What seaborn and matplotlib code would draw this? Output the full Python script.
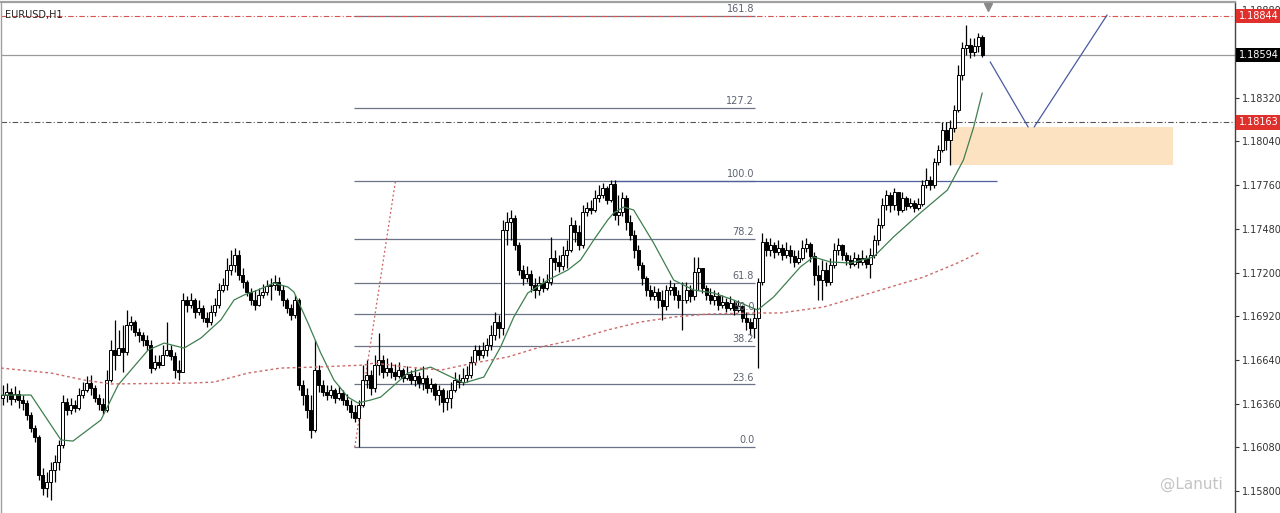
import numpy as np
import pandas as pd
import matplotlib.pyplot as plt
import matplotlib.transforms as mtransforms
import seaborn as sns

### DATA ###
symbol = "EURUSD,H1"
first_open = 1.16396
close = [1.16415, 1.16434, 1.16389, 1.16421, 1.16383, 1.16364, 1.16287, 1.16204, 1.16146, 1.15902,
         1.15819, 1.15857, 1.15934, 1.15986, 1.16095, 1.16370, 1.16319, 1.16351, 1.16332, 1.16415,
         1.16447, 1.16492, 1.16460, 1.16396, 1.16357, 1.16319, 1.16511, 1.16703, 1.16671, 1.16716,
         1.16691, 1.16864, 1.16883, 1.16819, 1.16800, 1.16768, 1.16736, 1.16588, 1.16627, 1.16607,
         1.16671, 1.16703, 1.16665, 1.16575, 1.16562, 1.17024, 1.16992, 1.17024, 1.16947, 1.16973,
         1.16909, 1.16883, 1.16947, 1.16992, 1.17088, 1.17120, 1.17216, 1.17248, 1.17312, 1.17184,
         1.17139, 1.17075, 1.17024, 1.16992, 1.17056, 1.17075, 1.17114, 1.17120, 1.17139, 1.17088,
         1.17024, 1.16973, 1.16928, 1.17024, 1.16479, 1.16415, 1.16319, 1.16191, 1.16575, 1.16479,
         1.16434, 1.16415, 1.16447, 1.16396, 1.16428, 1.16383, 1.16351, 1.16306, 1.16268, 1.16351,
         1.16511, 1.16543, 1.16460, 1.16607, 1.16639, 1.16562, 1.16588, 1.16562, 1.16537, 1.16575,
         1.16524, 1.16550, 1.16511, 1.16537, 1.16492, 1.16524, 1.16460, 1.16486, 1.16415, 1.16447,
         1.16370, 1.16396, 1.16447, 1.16511, 1.16498, 1.16524, 1.16543, 1.16627, 1.16703, 1.16671,
         1.16703, 1.16736, 1.16800, 1.16883, 1.16845, 1.17473, 1.17524, 1.17550, 1.17377, 1.17216,
         1.17165, 1.17191, 1.17120, 1.17088, 1.17133, 1.17101, 1.17139, 1.17293, 1.17268, 1.17242,
         1.17312, 1.17344, 1.17505, 1.17460, 1.17377, 1.17588, 1.17614, 1.17601, 1.17678, 1.17697,
         1.17742, 1.17665, 1.17768, 1.17569, 1.17588, 1.17678, 1.17524, 1.17441, 1.17344, 1.17248,
         1.17165, 1.17088, 1.17050, 1.17075, 1.17024, 1.16986, 1.17088, 1.17107, 1.17056, 1.17024,
         1.17024, 1.17088, 1.17050, 1.17203, 1.17229, 1.17101, 1.17056, 1.17024, 1.17050, 1.16992,
         1.17011, 1.16973, 1.17005, 1.16960, 1.16986, 1.16909, 1.16883, 1.16845, 1.16909, 1.17139,
         1.17396, 1.17344, 1.17377, 1.17332, 1.17357, 1.17312, 1.17344, 1.17306, 1.17268, 1.17293,
         1.17357, 1.17383, 1.17306, 1.17184, 1.17152, 1.17216, 1.17139, 1.17248, 1.17344, 1.17377,
         1.17312, 1.17280, 1.17255, 1.17293, 1.17268, 1.17293, 1.17255, 1.17312, 1.17409, 1.17505,
         1.17633, 1.17697, 1.17633, 1.17716, 1.17601, 1.17678, 1.17627, 1.17646, 1.17614, 1.17639,
         1.17761, 1.17793, 1.17761, 1.17909, 1.17985, 1.18114, 1.18050, 1.18127, 1.18242, 1.18466,
         1.18639, 1.18659, 1.18614, 1.18652, 1.18710, 1.18594]
high = [1.16479, 1.16492, 1.16460, 1.16473, 1.16447, 1.16415, 1.16383, 1.16306, 1.16223, 1.16159,
        1.15947, 1.15921, 1.15986, 1.16030, 1.16127, 1.16415, 1.16396, 1.16396, 1.16383, 1.16460,
        1.16498, 1.16537, 1.16543, 1.16479, 1.16421, 1.16396, 1.16575, 1.16768, 1.16896, 1.16832,
        1.16864, 1.16960, 1.16921, 1.16896, 1.16845, 1.16819, 1.16800, 1.16768, 1.16671, 1.16671,
        1.16736, 1.16883, 1.16736, 1.16691, 1.16639, 1.17069, 1.17050, 1.17069, 1.17037, 1.17024,
        1.16992, 1.16947, 1.16992, 1.17037, 1.17133, 1.17165, 1.17293, 1.17344, 1.17357, 1.17344,
        1.17229, 1.17152, 1.17101, 1.17088, 1.17101, 1.17127, 1.17152, 1.17165, 1.17184, 1.17171,
        1.17120, 1.17037, 1.16998, 1.17056, 1.17037, 1.16511, 1.16460, 1.16415, 1.16768, 1.16607,
        1.16511, 1.16479, 1.16479, 1.16460, 1.16473, 1.16447, 1.16421, 1.16383, 1.16351, 1.16383,
        1.16607, 1.16639, 1.16575, 1.16671, 1.16812, 1.16671, 1.16652, 1.16627, 1.16614, 1.16627,
        1.16588, 1.16601, 1.16575, 1.16588, 1.16562, 1.16601, 1.16543, 1.16524, 1.16492, 1.16479,
        1.16460, 1.16447, 1.16498, 1.16562, 1.16550, 1.16588, 1.16601, 1.16665, 1.16736, 1.16736,
        1.16755, 1.16780, 1.16864, 1.16947, 1.16928, 1.17537, 1.17588, 1.17601, 1.17569, 1.17396,
        1.17248, 1.17242, 1.17216, 1.17165, 1.17178, 1.17165, 1.17191, 1.17428, 1.17344, 1.17312,
        1.17370, 1.17409, 1.17556, 1.17537, 1.17505, 1.17633, 1.17652, 1.17665, 1.17729, 1.17761,
        1.17774, 1.17755, 1.17793, 1.17793, 1.17697, 1.17716, 1.17697, 1.17569, 1.17473, 1.17377,
        1.17268, 1.17178, 1.17120, 1.17114, 1.17101, 1.17088, 1.17120, 1.17152, 1.17133, 1.17088,
        1.17139, 1.17139, 1.17120, 1.17300, 1.17300, 1.17229, 1.17120, 1.17101, 1.17088, 1.17075,
        1.17056, 1.17037, 1.17050, 1.17024, 1.17024, 1.16992, 1.16947, 1.16909, 1.16973, 1.17165,
        1.17453, 1.17421, 1.17421, 1.17396, 1.17409, 1.17383, 1.17396, 1.17377, 1.17344, 1.17344,
        1.17409, 1.17421, 1.17396, 1.17332, 1.17248, 1.17280, 1.17268, 1.17293, 1.17389, 1.17421,
        1.17383, 1.17332, 1.17312, 1.17332, 1.17319, 1.17344, 1.17312, 1.17357, 1.17441, 1.17550,
        1.17678, 1.17729, 1.17716, 1.17742, 1.17716, 1.17716, 1.17691, 1.17678, 1.17665, 1.17678,
        1.17793, 1.17870, 1.17819, 1.17934, 1.18018, 1.18165, 1.18165, 1.18178, 1.18274, 1.18530,
        1.18678, 1.18787, 1.18703, 1.18703, 1.18735, 1.18723]
low = [1.16351, 1.16370, 1.16351, 1.16370, 1.16332, 1.16319, 1.16255, 1.16178, 1.16114, 1.15870,
       1.15774, 1.15761, 1.15742, 1.15857, 1.15934, 1.16075, 1.16287, 1.16293, 1.16306, 1.16319,
       1.16396, 1.16434, 1.16415, 1.16370, 1.16319, 1.16293, 1.16306, 1.16498, 1.16575, 1.16671,
       1.16562, 1.16671, 1.16832, 1.16793, 1.16755, 1.16729, 1.16703, 1.16556, 1.16575, 1.16588,
       1.16627, 1.16665, 1.16639, 1.16524, 1.16511, 1.16562, 1.16947, 1.16973, 1.16909, 1.16928,
       1.16883, 1.16851, 1.16864, 1.16921, 1.16973, 1.17075, 1.17088, 1.17184, 1.17203, 1.17152,
       1.17101, 1.17050, 1.16992, 1.16960, 1.16986, 1.17037, 1.17056, 1.17024, 1.17088, 1.17056,
       1.16986, 1.16941, 1.16896, 1.16909, 1.16447, 1.16351, 1.16268, 1.16139, 1.16178, 1.16434,
       1.16409, 1.16383, 1.16396, 1.16364, 1.16383, 1.16351, 1.16319, 1.16268, 1.16242, 1.16082,
       1.16338, 1.16460, 1.16415, 1.16434, 1.16543, 1.16524, 1.16537, 1.16524, 1.16511, 1.16524,
       1.16498, 1.16511, 1.16486, 1.16473, 1.16460, 1.16447, 1.16428, 1.16434, 1.16383, 1.16351,
       1.16306, 1.16319, 1.16332, 1.16434, 1.16460, 1.16479, 1.16498, 1.16524, 1.16607, 1.16639,
       1.16652, 1.16665, 1.16703, 1.16768, 1.16780, 1.16800, 1.17377, 1.17409, 1.17344, 1.17184,
       1.17120, 1.17139, 1.17075, 1.17037, 1.17056, 1.17075, 1.17088, 1.17120, 1.17216, 1.17203,
       1.17216, 1.17229, 1.17332, 1.17396, 1.17344, 1.17357, 1.17562, 1.17575, 1.17588, 1.17652,
       1.17678, 1.17639, 1.17652, 1.17537, 1.17505, 1.17562, 1.17473, 1.17409, 1.17293, 1.17216,
       1.17120, 1.17050, 1.17024, 1.17024, 1.16973, 1.16896, 1.16960, 1.17056, 1.17024, 1.16973,
       1.16832, 1.17005, 1.17011, 1.17024, 1.17088, 1.17069, 1.17024, 1.16998, 1.16992, 1.16960,
       1.16973, 1.16947, 1.16960, 1.16928, 1.16947, 1.16883, 1.16832, 1.16800, 1.16780, 1.16588,
       1.17120, 1.17306, 1.17306, 1.17293, 1.17312, 1.17280, 1.17293, 1.17261, 1.17236, 1.17255,
       1.17280, 1.17332, 1.17268, 1.17120, 1.17024, 1.17024, 1.17114, 1.17120, 1.17229, 1.17312,
       1.17280, 1.17248, 1.17229, 1.17242, 1.17229, 1.17248, 1.17229, 1.17165, 1.17293, 1.17377,
       1.17486, 1.17601, 1.17588, 1.17601, 1.17569, 1.17588, 1.17601, 1.17614, 1.17588, 1.17601,
       1.17627, 1.17742, 1.17729, 1.17742, 1.17889, 1.17973, 1.17985, 1.17889, 1.18101, 1.18229,
       1.18434, 1.18594, 1.18575, 1.18588, 1.18614, 1.18582]

# moving averages (bar index, price)
ma_fast_bar = [-0.5, 7.0, 14.5, 17.5, 24.5, 28.8, 36.3, 40.3, 45.3, 49.5, 54.5, 57.8, 60.3, 63.8,
               67.8, 71.3, 72.8, 76.3, 79.5, 82.8, 86.3, 88.8, 92.0, 94.5, 101.3, 107.0, 115.3,
               120.3, 124.5, 127.8, 131.3, 136.3, 141.3, 144.5, 147.8, 151.3, 152.8, 155.3, 157.8,
               162.8, 167.8, 172.8, 177.8, 182.8, 188.8, 192.8, 199.5, 202.8, 207.0, 212.0, 217.8,
               222.8, 229.5, 236.3, 240.3, 242.8, 245.0]
ma_fast_val = [1.16415, 1.16415, 1.16127, 1.16120, 1.16255, 1.16479, 1.16703, 1.16748, 1.16716,
               1.16780, 1.16896, 1.17024, 1.17056, 1.17088, 1.17133, 1.17107, 1.17075, 1.16877,
               1.16684, 1.16511, 1.16402, 1.16364, 1.16383, 1.16402, 1.16556, 1.16594, 1.16492,
               1.16530, 1.16723, 1.16915, 1.17069, 1.17152, 1.17216, 1.17280, 1.17409, 1.17537,
               1.17582, 1.17620, 1.17601, 1.17389, 1.17152, 1.17088, 1.17069, 1.17024, 1.16960,
               1.17043, 1.17236, 1.17300, 1.17268, 1.17261, 1.17300, 1.17428, 1.17582, 1.17729,
               1.17921, 1.18127, 1.18351]
ma_slow_bar = [-0.5, 12.0, 20.3, 27.0, 47.0, 52.8, 61.3, 69.5, 77.8, 90.3, 92.8, 101.3, 109.5,
               117.8, 126.3, 134.5, 142.8, 151.3, 159.5, 167.8, 176.3, 188.8, 194.5, 205.3, 213.8,
               222.0, 230.3, 238.8, 244.5]
ma_slow_val = [1.16588, 1.16556, 1.16511, 1.16486, 1.16492, 1.16498, 1.16556, 1.16588, 1.16594,
               1.16607, 1.16620, 1.16594, 1.16575, 1.16620, 1.16659, 1.16723, 1.16768, 1.16832,
               1.16883, 1.16915, 1.16934, 1.16941, 1.16941, 1.16979, 1.17043, 1.17107, 1.17171,
               1.17261, 1.17332]

fib_low = 1.16080
fib_high = 1.17788
fib_levels = [0.0, 23.6, 38.2, 50.0, 61.8, 78.2, 100.0, 127.2, 161.8]
fib_span = [87.75, 188.25]
fib_trend_bar = [88.0, 98.2]

peak_line_bar = [152.5, 248.75]
peak_line_val = 1.17787
zone_bar = [237.0, 292.75]
zone_val = [1.17889, 1.18133]
path_down_bar = [247.0, 256.5]
path_down_val = [1.18550, 1.18133]
path_up_bar = [258.0, 276.25]
path_up_val = [1.18133, 1.18851]

price_ticks = [1.15800, 1.16080, 1.16360, 1.16640, 1.16920, 1.17200, 1.17480,
               1.17760, 1.18040, 1.18320, 1.18600, 1.18880]
level_red_top = 1.18844
level_bid = 1.18594
level_mid = 1.18163

### PLOT ###
sns.set_style("white")
plt.rcParams['font.family'] = ['DejaVu Sans']
fig = plt.figure(figsize=(12.8, 5.13), dpi=100)
ax = fig.add_axes([1 / 1280, 0.0, 1234 / 1280, 511 / 513])

df = pd.DataFrame({'close': close, 'high': high, 'low': low})
df['open'] = [first_open] + close[:-1]
df['bar'] = np.arange(len(df))
up = df['close'] >= df['open']
wick_lo = df[['low', 'open', 'close']].min(axis=1)
wick_hi = df[['high', 'open', 'close']].max(axis=1)

# candles
ax.vlines(df['bar'], wick_lo, wick_hi, color='black', linewidth=0.9, zorder=3)
ax.bar(df['bar'][up], (df['close'] - df['open'])[up].clip(lower=0.00003), bottom=df['open'][up],
       width=0.75, color='white', edgecolor='black', linewidth=0.7, zorder=4)
ax.bar(df['bar'][~up], (df['open'] - df['close'])[~up].clip(lower=0.00003), bottom=df['close'][~up],
       width=0.75, color='black', edgecolor='black', linewidth=0.7, zorder=4)

# moving averages
sns.lineplot(x=ma_fast_bar, y=ma_fast_val, ax=ax, color='#3f7f4f', linewidth=0.9, zorder=5)
sns.lineplot(x=ma_slow_bar, y=ma_slow_val, ax=ax, color='#cc6b6b', linewidth=1.0,
             linestyle=(0, (2, 2)), zorder=5)

# fibonacci retracement
rng = fib_high - fib_low
for lvl in fib_levels:
    price = fib_low + rng * lvl / 100
    ax.hlines(price, fib_span[0], fib_span[1], color='#6a7486', linewidth=0.9, zorder=2)
    ax.text(fib_span[1] - 0.3, price + 0.00012, f'{lvl:.1f}', ha='right', va='bottom',
            fontsize=7, color='#5c6270', zorder=6)
ax.plot(fib_trend_bar, [fib_low, fib_high], color='#cc5c5c', linewidth=0.9,
        linestyle=(0, (1.5, 2)), zorder=2)
ax.hlines(peak_line_val, peak_line_bar[0], peak_line_bar[1], color='#4f5f9f', linewidth=0.9, zorder=2)

# zone + projected path
ax.fill_between(zone_bar, zone_val[0], zone_val[1], color='#fde2c2', linewidth=0, zorder=1)
ax.plot(path_down_bar, path_down_val, color='#4a5aa0', linewidth=0.9, zorder=3)
ax.plot(path_up_bar, path_up_val, color='#4a5aa0', linewidth=0.9, zorder=3)

# price levels
ax.axhline(level_red_top, color='#d9534f', linewidth=0.8, linestyle=(0, (5, 2, 1, 2)), zorder=2)
ax.axhline(level_bid, color='#9a9a9a', linewidth=0.9, zorder=2)
ax.axhline(level_mid, color='#555555', linewidth=0.8, linestyle=(0, (5, 2, 1, 2)), zorder=2)

# axes
ax.set_xlim(-0.5, 308.25)
ax.set_ylim(1.15659, 1.18934)
ax.set_xticks([])
ax.yaxis.tick_right()
ax.set_yticks(price_ticks)
# 1.18600 sits under the bid box, so leave its label blank
ax.set_yticklabels(['' if p == 1.18600 else f'{p:.5f}' for p in price_ticks])
ax.tick_params(axis='y', direction='out', length=3, width=0.8, labelsize=7, colors='#333333', pad=2)
ax.spines['bottom'].set_visible(False)
ax.spines['right'].set_color('#444444')
ax.spines['right'].set_linewidth(1.0)
ax.spines['top'].set_color('#a0a0a0')
ax.spines['top'].set_linewidth(1.6)
ax.spines['left'].set_color('#a0a0a0')
ax.spines['left'].set_linewidth(1.0)

# price labels on the axis
trans = mtransforms.blended_transform_factory(ax.transAxes, ax.transData)
for val, fc in [(level_red_top, '#e0302c'), (level_bid, '#000000'), (level_mid, '#e0302c')]:
    ax.text(1.003, val, f'{val:.5f}', transform=trans, ha='left', va='center', fontsize=7,
            color='white', zorder=10, clip_on=False,
            bbox=dict(boxstyle='square,pad=0.25', fc=fc, ec='none'))

# chart shift marker
ax.plot([246.5], [1.18900], marker='v', markersize=6, color='#8a8a8a', clip_on=False, zorder=6)

ax.text(0.003, 0.985, symbol, transform=ax.transAxes, ha='left', va='top', fontsize=7, color='#222222')
ax.text(0.990, 0.055, '@Lanuti', transform=ax.transAxes, ha='right', va='center', fontsize=11,
        color='#c4c4c4', zorder=7)

plt.savefig('out.png', dpi=100)
